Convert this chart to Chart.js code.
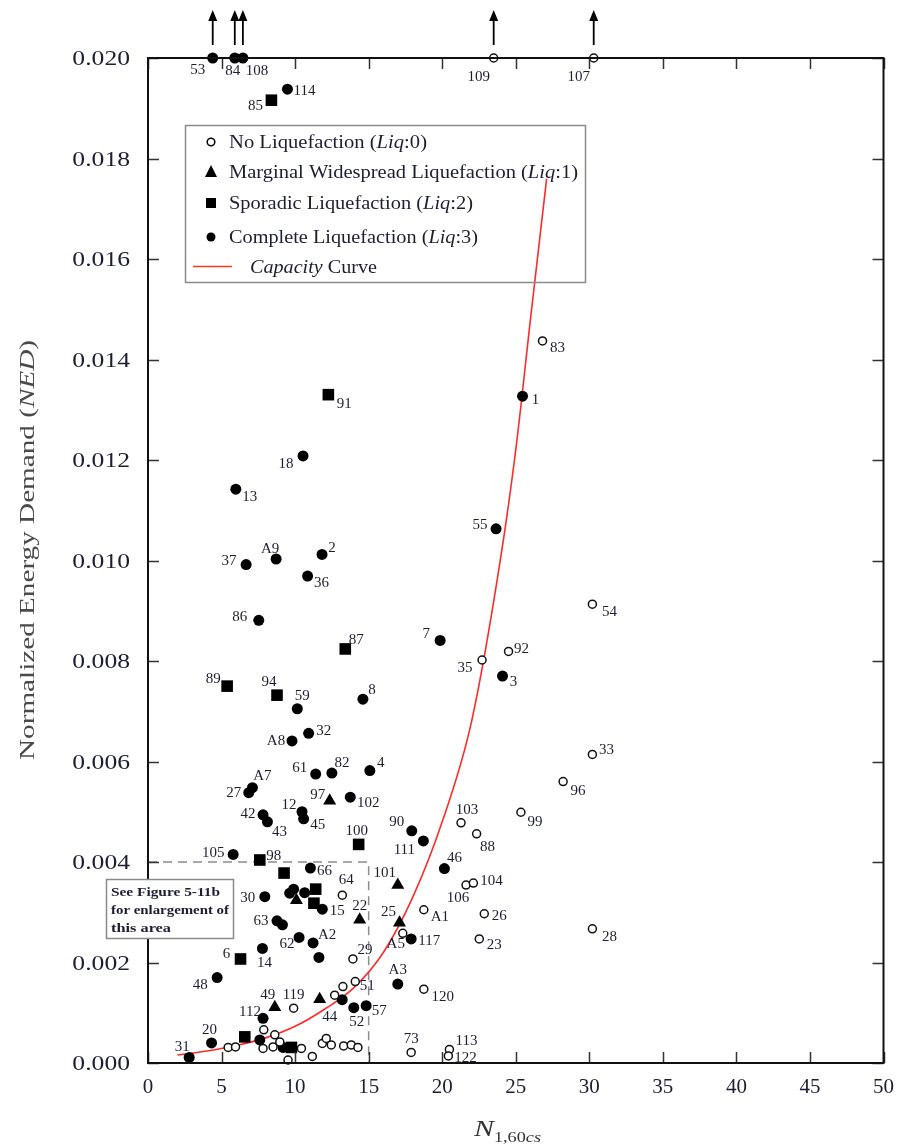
<!DOCTYPE html>
<html>
<head>
<meta charset="utf-8">
<script src="https://cdn.jsdelivr.net/npm/chart.js@4/dist/chart.umd.min.js"></script>
<style>
  html, body { margin: 0; padding: 0; background: #ffffff; }
  #wrap { position: relative; width: 906px; height: 1146px; }
  canvas { display: block; }
</style>
</head>
<body>
<div id="wrap"><canvas id="chart" width="906" height="1146"></canvas></div>
<script>
// ---- Case histories: N1,60cs vs. normalized energy demand, by liquefaction class ----

// Liq:0 — no liquefaction (open circles)
const liq0Ids = ['109', '107', '83', '54', '35', '92', '33', '96', '99', '103', '88', '106', '104', 'A1', '26', '23', '28', 'A5', '64', '29', '51', '', '120', '119', '73', '113', '122',
  '', '', '', '', '', '', '', '', '', '', '', '', '', '', '', ''];
const liq0N = [23.5, 30.3, 26.82, 30.21, 22.71, 24.51, 30.21, 28.22, 25.35, 21.28, 22.34, 21.62, 22.12, 18.75, 22.86, 22.52, 30.21, 17.32, 13.21, 13.93, 14.09, 13.25, 18.75, 9.9, 17.89, 20.49, 20.42,
  5.45, 5.95, 7.87, 8.62, 7.82, 8.5, 8.96, 9.52, 10.43, 11.17, 11.85, 12.12, 12.46, 13.3, 13.82, 14.27, 12.69];
const liq0NED = [0.020, 0.020, 0.01437, 0.00913, 0.00802, 0.00819, 0.00614, 0.00560, 0.00499, 0.00478, 0.00456, 0.00354, 0.00358, 0.00305, 0.00297, 0.00247, 0.00267, 0.00258, 0.00334, 0.00207, 0.00162, 0.00152, 0.00147, 0.00109, 0.00021, 0.00027, 0.00014,
  0.00031, 0.00032, 0.00066, 0.00056, 0.00029, 0.00032, 0.00042, 0.00006, 0.00029, 0.00013, 0.00039, 0.00049, 0.00036, 0.00034, 0.00036, 0.00031, 0.00135];

// Liq:1 — marginal widespread liquefaction (triangles)
const liq1Ids = ['97', '101', '', '22', '25', '49', '44'];
const liq1N = [12.35, 16.98, 10.09, 14.39, 17.1, 8.62, 11.67];
const liq1NED = [0.00522, 0.00354, 0.00324, 0.00285, 0.00279, 0.00111, 0.00127];

// Liq:2 — sporadic liquefaction (squares)
const liq2Ids = ['85', '91', '87', '89', '94', '100', '98', '', '', '', '6', '', ''];
const liq2N = [8.39, 12.26, 13.41, 5.38, 8.77, 14.32, 7.60, 9.25, 11.40, 11.28, 6.29, 6.58, 9.75];
const liq2NED = [0.01916, 0.01330, 0.00824, 0.00750, 0.00732, 0.00435, 0.00404, 0.00378, 0.00346, 0.00318, 0.00207, 0.00052, 0.00031];

// Liq:3 — complete liquefaction (filled circles)
const liq3Ids = ['53', '84', '108', '114', '1', '18', '13', '55', 'A9', '2', '37', '36', '86', '7', '3', '59', '8', '32', 'A8', 'A7', '27', '61', '82', '4', '102',
  '42', '43', '12', '45', '90', '111', '105', '66', '46', '30', '', '', '', '15', '63', '', '62', 'A2', '', '14', '117', '48', 'A3', '57', '52', '', '112', '20', '31', '', ''];
const liq3N = [4.4, 5.9, 6.45, 9.48, 25.46, 10.54, 5.97, 23.66, 8.71, 11.83, 6.67, 10.85, 7.53, 19.86, 24.10, 10.15, 14.61, 10.92, 9.79, 7.10, 6.85, 11.40, 12.50, 15.08, 13.75,
  7.82, 8.12, 10.47, 10.58, 17.93, 18.72, 5.79, 11.04, 20.15, 7.94, 9.63, 9.90, 10.65, 11.85, 8.77, 9.14, 10.27, 11.22, 11.62, 7.78, 17.89, 4.70, 16.98, 14.83, 13.99, 13.2, 7.82, 4.32, 2.80, 7.6, 9.18];
const liq3NED = [0.020, 0.020, 0.020, 0.01938, 0.01327, 0.01208, 0.01142, 0.01063, 0.01003, 0.01012, 0.00992, 0.00969, 0.00881, 0.00841, 0.00770, 0.00705, 0.00724, 0.00656, 0.00641, 0.00548, 0.00538, 0.00575, 0.00577, 0.00582, 0.00529,
  0.00494, 0.00480, 0.00500, 0.00486, 0.00462, 0.00442, 0.00415, 0.00388, 0.00387, 0.00331, 0.00338, 0.00346, 0.00339, 0.00306, 0.00283, 0.00275, 0.00250, 0.00239, 0.00210, 0.00228, 0.00247, 0.00170, 0.00157, 0.00114, 0.00110, 0.00126, 0.00089, 0.00040, 0.00011, 0.00046, 0.00031];

// Cases whose demand exceeds the plotted range (drawn at the top with an arrow)
const offScaleIds = ['53', '84', '108', '109', '107'];

// Capacity curve
const capacityN = [2.0, 4, 6, 8, 10, 12, 14, 16, 18, 20, 22, 24, 25, 26, 27.1];
const capacityNED = [0.00016, 0.00024, 0.00035, 0.0005, 0.00073, 0.00107, 0.0015, 0.0022, 0.0033, 0.0048, 0.0068, 0.0101, 0.0122, 0.0148, 0.0176];

// Outline of the enlarged region (Figure 5-11b)
const regionN = [0, 15, 15];
const regionNED = [0.004, 0.004, 0];

// Axis tick values
const xTicks = [0, 5, 10, 15, 20, 25, 30, 35, 40, 45, 50];
const yTicks = [0.000, 0.002, 0.004, 0.006, 0.008, 0.010, 0.012, 0.014, 0.016, 0.018, 0.020];

// ---- Label placement (text centre offset from the marker, px) ----
const labelOffsets = {
  '53': [-15, 12], '84': [-2, 13], '108': [14, 13], '109': [-15, 19], '107': [-15, 19], '114': [17, 2], '85': [-16, 6],
  '83': [15, 7], '91': [16, 9], '1': [13, 4], '18': [-17, 8], '13': [14, 8], '55': [-16, -4], 'A9': [-6, -10], '2': [10, -6],
  '37': [-17, -3], '36': [14, 7], '86': [-19, -3], '87': [11, -9], '7': [-14, -6], '35': [-17, 8], '92': [13, -2], '3': [11, 6],
  '54': [17, 8], '89': [-14, -7], '94': [-8, -13], '59': [5, -13], '8': [9, -9], '32': [15, -2], 'A8': [-16, 0], '33': [14, -4],
  'A7': [10, -12], '27': [-15, 0], '61': [-16, -6], '82': [10, -10], '4': [11, -7], '97': [-12, -6], '102': [18, 6], '42': [-15, -1],
  '43': [12, 10], '12': [-13, -7], '45': [14, 6], '100': [-2, -13], '90': [-15, -9], '111': [-19, 9], '105': [-20, -1], '98': [14, -4],
  '66': [14, 3], '101': [-13, -12], '46': [10, -10], '30': [-17, 1], '15': [15, 2], '64': [4, -15], '22': [0, -14], '63': [-16, 0],
  '62': [-12, 7], 'A2': [14, -8], '14': [2, 15], '6': [-14, -5], '48': [-17, 7], '29': [12, -9], '51': [12, 4], 'A3': [0, -14],
  '120': [19, 8], '57': [13, 5], '52': [3, 14], '44': [10, 18], '49': [-7, -12], '119': [0, -13], '112': [-13, -6], '20': [-2, -13],
  '31': [-7, -10], '73': [0, -13], '113': [17, -8], '122': [17, 2], '96': [15, 9], '103': [6, -13], '99': [14, 10], '88': [11, 13],
  '106': [-8, 13], '104': [18, -2], 'A1': [16, 7], '26': [15, 2], '23': [15, 6], '28': [17, 8], '117': [18, 2], 'A5': [-7, 11], '25': [-11, -11]
};

const SERIF = '"Liberation Serif", "Times New Roman", serif';
const INK = '#1d1d33';

function toPoints(xs, ys) { return xs.map((x, i) => ({ x: x, y: ys[i] })); }

// Draws a run of text segments ({t, italic, size, dy}) scaled horizontally to a given width
function richText(ctx, segs, x, y, targetWidth, color) {
  ctx.save();
  let total = 0;
  const widths = segs.map(s => {
    ctx.font = (s.italic ? 'italic ' : '') + (s.bold ? 'bold ' : '') + s.size + 'px ' + SERIF;
    const w = ctx.measureText(s.t).width;
    total += w;
    return w;
  });
  const k = targetWidth ? targetWidth / total : 1;
  ctx.translate(x, y);
  ctx.scale(k, 1);
  ctx.fillStyle = color || INK;
  ctx.textBaseline = 'alphabetic';
  ctx.textAlign = 'left';
  let cx = 0;
  segs.forEach((s, i) => {
    ctx.font = (s.italic ? 'italic ' : '') + (s.bold ? 'bold ' : '') + s.size + 'px ' + SERIF;
    ctx.fillText(s.t, cx, s.dy || 0);
    cx += widths[i];
  });
  ctx.restore();
}

// Frame, inward ticks, y tick labels, arrows, point labels, legend and note box
const decorations = {
  id: 'decorations',
  afterDatasetsDraw(chart) {
    const { ctx, chartArea: a, scales } = chart;
    const xs = scales.x, ys = scales.y;

    // inward tick marks on all four sides
    ctx.save();
    ctx.strokeStyle = '#333';
    ctx.lineWidth = 1.5;
    ctx.beginPath();
    xTicks.forEach(v => {
      const px = Math.round(xs.getPixelForValue(v)) + 0.5;
      ctx.moveTo(px, a.bottom); ctx.lineTo(px, a.bottom - 11);
      ctx.moveTo(px, a.top); ctx.lineTo(px, a.top + 11);
    });
    yTicks.forEach(v => {
      const py = Math.round(ys.getPixelForValue(v)) + 0.5;
      ctx.moveTo(a.left, py); ctx.lineTo(a.left + 11, py);
      ctx.moveTo(a.right, py); ctx.lineTo(a.right - 11, py);
    });
    ctx.stroke();

    // plot frame
    ctx.strokeStyle = '#111';
    ctx.lineWidth = 2;
    ctx.strokeRect(a.left, a.top, a.right - a.left, a.bottom - a.top);
    ctx.restore();

    // y tick labels (wide serif figures, right-aligned to the axis)
    ys.ticks.forEach(t => {
      const py = ys.getPixelForValue(t.value);
      const s = t.value.toFixed(3);
      ctx.save();
      ctx.font = '21px ' + SERIF;
      const w = ctx.measureText(s).width;
      ctx.restore();
      const target = w * 1.22;
      richText(ctx, [{ t: s, size: 21 }], a.left - 18 - target, py + 7, target);
    });

    // arrows above the off-scale cases, and the point labels
    ctx.save();
    ctx.font = '15px ' + SERIF;
    ctx.textAlign = 'center';
    ctx.textBaseline = 'middle';
    chart.data.datasets.forEach((ds, di) => {
      if (!ds.ids) return;
      const meta = chart.getDatasetMeta(di);
      meta.data.forEach((el, i) => {
        const id = ds.ids[i];
        if (!id) return;
        if (offScaleIds.includes(id)) {
          ctx.strokeStyle = '#000';
          ctx.fillStyle = '#000';
          ctx.lineWidth = 1.8;
          ctx.beginPath();
          ctx.moveTo(el.x, el.y - 13);
          ctx.lineTo(el.x, el.y - 40);
          ctx.stroke();
          ctx.beginPath();
          ctx.moveTo(el.x, el.y - 48);
          ctx.lineTo(el.x - 4.5, el.y - 37);
          ctx.lineTo(el.x + 4.5, el.y - 37);
          ctx.closePath();
          ctx.fill();
        }
        const off = labelOffsets[id] || [12, -8];
        ctx.fillStyle = INK;
        ctx.fillText(id, el.x + off[0], el.y + off[1]);
      });
    });
    ctx.restore();

    // legend
    ctx.save();
    ctx.strokeStyle = '#8a8a8a';
    ctx.lineWidth = 1.5;
    ctx.strokeRect(185.5, 125.5, 400, 157);
    const mx = 211;
    ctx.lineWidth = 1.5;
    ctx.strokeStyle = '#000';
    ctx.fillStyle = '#fff';
    ctx.beginPath(); ctx.arc(mx, 142, 3.8, 0, Math.PI * 2); ctx.fill(); ctx.stroke();
    ctx.fillStyle = '#000';
    ctx.beginPath(); ctx.moveTo(mx, 165); ctx.lineTo(mx - 6, 177); ctx.lineTo(mx + 6, 177); ctx.closePath(); ctx.fill();
    ctx.fillRect(mx - 5, 198, 10, 10);
    ctx.beginPath(); ctx.arc(mx, 237, 4.5, 0, Math.PI * 2); ctx.fill();
    ctx.strokeStyle = '#ff3a1a';
    ctx.lineWidth = 1.5;
    ctx.beginPath(); ctx.moveTo(193, 266.5); ctx.lineTo(232, 266.5); ctx.stroke();
    ctx.restore();

    const L = 18;
    richText(ctx, [{ t: 'No Liquefaction (', size: L }, { t: 'Liq', italic: true, size: L }, { t: ':0)', size: L }], 229, 148, 198);
    richText(ctx, [{ t: 'Marginal Widespread Liquefaction (', size: L }, { t: 'Liq', italic: true, size: L }, { t: ':1)', size: L }], 229, 178, 349);
    richText(ctx, [{ t: 'Sporadic Liquefaction (', size: L }, { t: 'Liq', italic: true, size: L }, { t: ':2)', size: L }], 229, 209, 244);
    richText(ctx, [{ t: 'Complete Liquefaction (', size: L }, { t: 'Liq', italic: true, size: L }, { t: ':3)', size: L }], 229, 243, 249);
    richText(ctx, [{ t: 'Capacity', italic: true, size: L }, { t: ' Curve', size: L }], 250, 273, 127);

    // note box pointing to the enlarged area
    ctx.save();
    ctx.fillStyle = '#fff';
    ctx.fillRect(106, 879, 128, 60);
    ctx.strokeStyle = '#8a8a8a';
    ctx.lineWidth = 1.5;
    ctx.strokeRect(106.5, 879.5, 127, 59);
    ctx.restore();
    richText(ctx, [{ t: 'See Figure 5-11b', size: 13, bold: true }], 111, 896, 109);
    richText(ctx, [{ t: 'for enlargement of', size: 13, bold: true }], 111, 914, 118);
    richText(ctx, [{ t: 'this area', size: 13, bold: true }], 111, 932, 60);

    // axis titles
    ctx.save();
    ctx.translate(34, 760);
    ctx.rotate(-Math.PI / 2);
    richText(ctx, [{ t: 'Normalized Energy Demand (', size: 21 }, { t: 'NED', italic: true, size: 21 }, { t: ')', size: 21 }], 0, 0, 420, '#4a4a4a');
    ctx.restore();
    richText(ctx, [{ t: 'N', italic: true, size: 23 }, { t: '1,60', size: 14, dy: 6 }, { t: 'cs', italic: true, size: 14, dy: 6 }], 474, 1136, 67, '#333');
  }
};

const ctx = document.getElementById('chart').getContext('2d');
new Chart(ctx, {
  type: 'scatter',
  data: {
    datasets: [
      {
        label: 'Liq:0', ids: liq0Ids, data: toPoints(liq0N, liq0NED),
        pointStyle: 'circle', pointRadius: 4, pointBorderWidth: 1.5,
        pointBackgroundColor: '#ffffff', pointBorderColor: '#111', clip: false, order: 1
      },
      {
        label: 'Liq:1', ids: liq1Ids, data: toPoints(liq1N, liq1NED),
        pointStyle: 'triangle', pointRadius: 7.5, pointBorderWidth: 0,
        pointBackgroundColor: '#000', pointBorderColor: '#000', clip: false, order: 1
      },
      {
        label: 'Liq:2', ids: liq2Ids, data: toPoints(liq2N, liq2NED),
        pointStyle: 'rect', pointRadius: 8.2, pointBorderWidth: 0,
        pointBackgroundColor: '#000', pointBorderColor: '#000', clip: false, order: 1
      },
      {
        label: 'Liq:3', ids: liq3Ids, data: toPoints(liq3N, liq3NED),
        pointStyle: 'circle', pointRadius: 5.5, pointBorderWidth: 0,
        pointBackgroundColor: '#000', pointBorderColor: '#000', clip: false, order: 1
      },
      {
        label: 'Capacity Curve', data: toPoints(capacityN, capacityNED),
        showLine: true, borderColor: '#ff2a2a', borderWidth: 1.6, pointRadius: 0,
        cubicInterpolationMode: 'monotone', fill: false, order: 5
      },
      {
        label: 'region', data: toPoints(regionN, regionNED),
        showLine: true, borderColor: '#8c8c8c', borderWidth: 1.5, borderDash: [9, 6],
        pointRadius: 0, fill: false, order: 6
      }
    ]
  },
  options: {
    responsive: false,
    animation: false,
    devicePixelRatio: 1,
    layout: { padding: { top: 58, right: 21, left: 0, bottom: 0 } },
    plugins: { legend: { display: false }, tooltip: { enabled: false } },
    scales: {
      x: {
        type: 'linear', min: 0, max: 50,
        grid: { display: false, drawTicks: false },
        border: { display: false },
        ticks: { stepSize: 5, padding: 12, color: INK, font: { family: SERIF, size: 21 } },
        afterFit(s) { s.height = 83; }
      },
      y: {
        type: 'linear', min: 0, max: 0.02,
        grid: { display: false, drawTicks: false },
        border: { display: false },
        ticks: { stepSize: 0.002, display: false },
        afterFit(s) { s.width = 148; }
      }
    }
  },
  plugins: [decorations]
});
</script>
</body>
</html>
